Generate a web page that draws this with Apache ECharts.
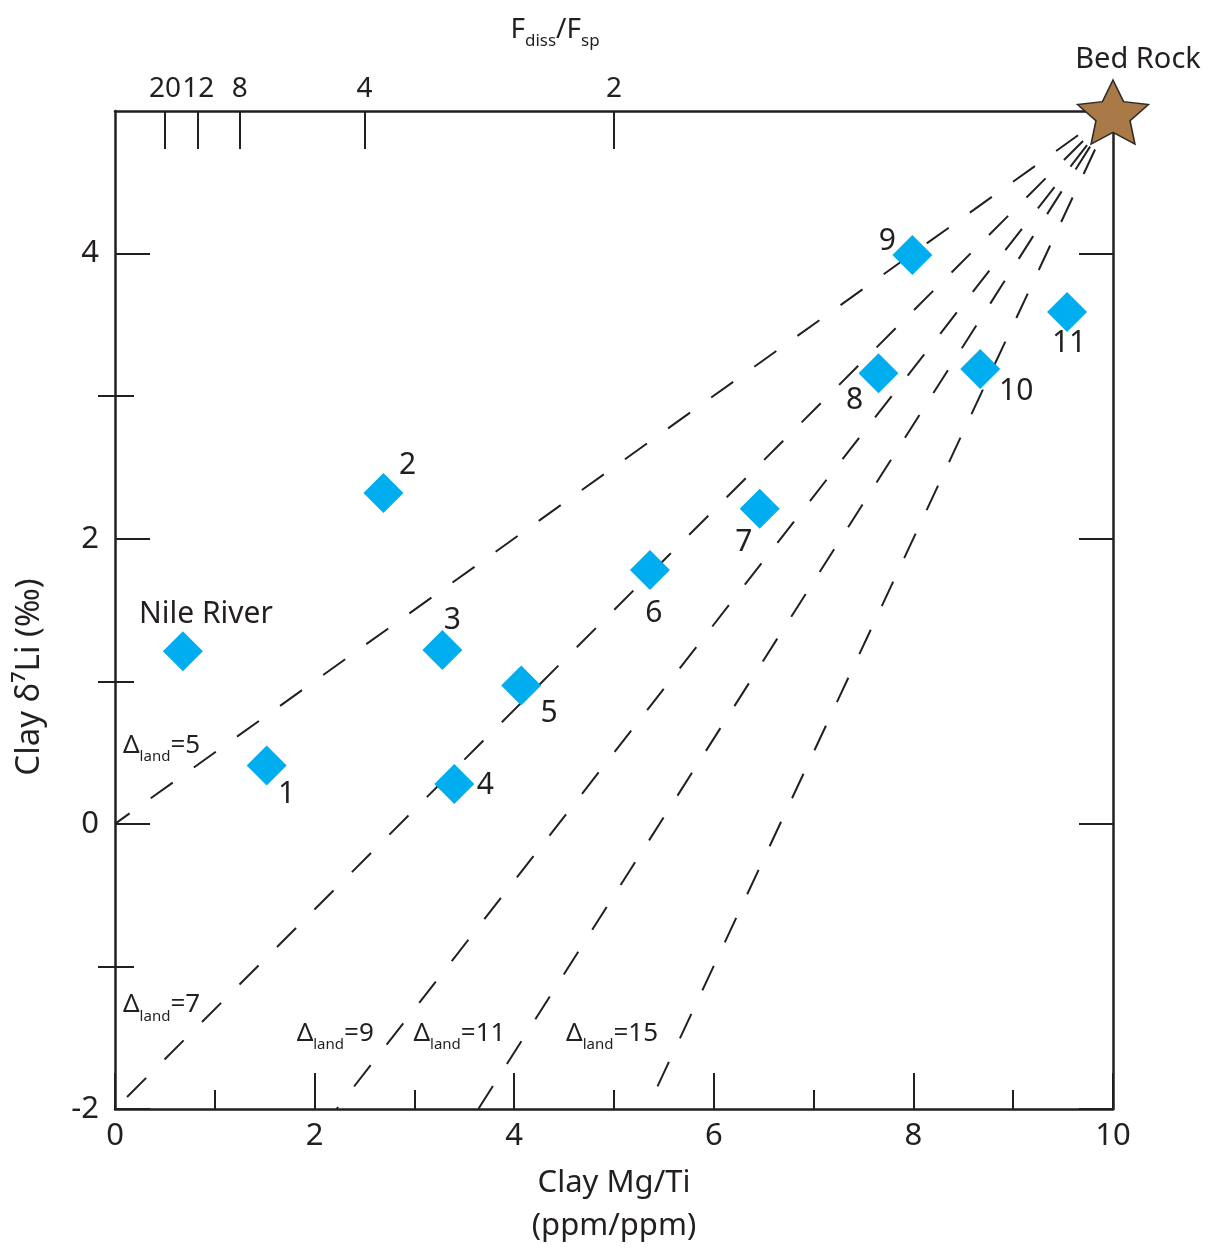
<!DOCTYPE html>
<html>
<head>
<meta charset="utf-8">
<script src="https://cdn.jsdelivr.net/npm/echarts@6/dist/echarts.min.js"></script>
<style>
html,body{margin:0;padding:0;background:#fff;}
#chart{width:1210px;height:1249px;}
</style>
</head>
<body>
<div id="chart"></div>
<script>
// ---- data ----
const sampleNames = ['Nile River','1','2','3','4','5','6','7','8','9','10','11'];
const mgTi  = [0.68, 1.52, 2.69, 3.28, 3.40, 4.07, 5.36, 6.46, 7.65, 7.99, 8.67, 9.54];
const d7Li  = [1.21, 0.41, 2.32, 1.22, 0.28, 0.97, 1.78, 2.21, 3.16, 3.99, 3.19, 3.59];

const bedRock = [10, 5];

const deltaLand   = [5, 7, 9, 11, 15];
const lineStartX  = [9.65, 9.70, 9.74, 9.77, 9.82];
const lineStartY  = [4.83, 4.79, 4.76, 4.75, 4.73];
const lineEndX    = [0.00, 0.00, 2.22, 3.64, 5.33];
const lineEndY    = [0.00, -2.00, -2.00, -2.00, -2.00];
const deltaLabelX = [0.08, 0.08, 1.82, 2.99, 4.52];
const deltaLabelY = [0.55, -1.27, -1.47, -1.47, -1.47];

const fTicks = [20, 12, 8, 4, 2];          // Fdiss/Fsp tick labels (top axis)
const yTickLabels = [-2, 0, 2, 4];
const yMinorTicks = [-1, 1, 3];

// ---- styling (label offsets in px) ----
const labelOffsets = {
  'Nile River':[23,-37], '1':[20,29], '2':[24,-28], '3':[10,-29], '4':[31,2],
  '5':[28,28], '6':[4,43], '7':[-16,34], '8':[-24,27], '9':[-25,-14],
  '10':[36,22], '11':[2,31]
};
const INK = '#231f20';
const FONT = '"Noto Sans", "Open Sans", sans-serif';

// star path
function starPath(){
  let pts = [];
  for (let i=0;i<10;i++){
    const a = (-90 + i*36) * Math.PI/180;
    const r = i%2===0 ? 100 : 48;
    pts.push([(r*Math.cos(a)).toFixed(2),(r*Math.sin(a)).toFixed(2)]);
  }
  return 'path://M' + pts.map(p=>p.join(',')).join('L') + 'Z';
}

const chart = echarts.init(document.getElementById('chart'), null, {renderer:'canvas'});

const sampleData = sampleNames.map((n,i)=>({
  name:n, value:[mgTi[i], d7Li[i]],
  label:{offset: labelOffsets[n]}
}));

const lineSeries = deltaLand.map((d,i)=>({
  type:'line', name:'Δland='+d, xAxisIndex:0, yAxisIndex:0,
  data:[[lineStartX[i], lineStartY[i]],[lineEndX[i], lineEndY[i]]],
  symbol:'none', showSymbol:false, silent:true, z:2,
  lineStyle:{color:INK, width:2, type:[27,26]}
}));

const axisLineStyle = {color:INK, width:2.5};

const option = {
  animation:false,
  backgroundColor:'#fff',
  textStyle:{fontFamily:FONT},
  grid:{left:115, right:97, top:111, bottom:140, containLabel:false},
  xAxis:[
    {type:'value', position:'bottom', min:0, max:10, interval:2,
     axisLine:{show:true, onZero:false, lineStyle:axisLineStyle},
     axisTick:{show:true, inside:true, length:36, lineStyle:{color:INK,width:2}},
     minorTick:{show:true, splitNumber:2, length:19, lineStyle:{color:INK,width:2}},
     splitLine:{show:false},
     axisLabel:{color:INK, fontSize:31, margin:12, fontFamily:FONT}
    },
    {type:'value', position:'top', min:0, max:10,
     axisLine:{show:true, onZero:false, lineStyle:axisLineStyle},
     axisTick:{show:true, inside:true, length:38, lineStyle:{color:INK,width:2},
               customValues: fTicks.map(f=>10/f)},
     splitLine:{show:false},
     axisLabel:{show:true, color:INK, fontSize:28, margin:8, fontFamily:FONT,
                customValues: fTicks.map(f=>10/f),
                formatter:(v)=>String(Math.round(10/v))}
    }
  ],
  yAxis:[
    {type:'value', position:'left', min:-2, max:5, interval:2,
     axisLine:{show:true, onZero:false, lineStyle:axisLineStyle},
     axisTick:{show:true, inside:true, length:35, lineStyle:{color:INK,width:2},
               customValues: yTickLabels},
     splitLine:{show:false},
     axisLabel:{color:INK, fontSize:31, margin:16, fontFamily:FONT,
                customValues: yTickLabels}
    },
    {type:'value', position:'right', min:-2, max:5, interval:2,
     axisLine:{show:true, onZero:false, lineStyle:axisLineStyle},
     axisTick:{show:true, inside:true, length:34, lineStyle:{color:INK,width:2},
               customValues: yTickLabels},
     splitLine:{show:false},
     axisLabel:{show:false}
    },
    {type:'value', position:'left', min:-2, max:5,
     axisLine:{show:false},
     axisTick:{show:true, inside:true, length:19, lineStyle:{color:INK,width:2},
               customValues: yMinorTicks},
     splitLine:{show:false},
     axisLabel:{show:false}
    },
    {type:'value', position:'right', min:-2, max:5,
     axisLine:{show:false},
     axisTick:{show:true, inside:true, length:17, lineStyle:{color:INK,width:2},
               customValues: yMinorTicks},
     splitLine:{show:false},
     axisLabel:{show:false}
    }
  ],
  graphic:[
    {type:'text', x:614, y:1183, z:10,
     style:{text:'Clay Mg/Ti', font:'31px '+FONT, fill:INK, textAlign:'center', textVerticalAlign:'middle'}},
    {type:'text', x:614, y:1226, z:10,
     style:{text:'(ppm/ppm)', font:'31px '+FONT, fill:INK, textAlign:'center', textVerticalAlign:'middle'}},
    {type:'text', x:30, y:677, rotation:Math.PI/2, z:10,
     style:{text:'Clay δ⁷Li (‰)', font:'33px '+FONT, fill:INK, textAlign:'center', textVerticalAlign:'middle'}},
    {type:'text', x:555, y:30, z:10,
     style:{text:'{F|F}{s|diss}{F|/F}{s|sp}', fill:INK, textAlign:'center', textVerticalAlign:'middle',
            rich:{F:{fontSize:28, lineHeight:40, fontFamily:FONT, fill:INK},
                  s:{fontSize:17, lineHeight:40, verticalAlign:'bottom', fontFamily:FONT, fill:INK}}}}
  ],
  series:[
    ...lineSeries,
    {type:'scatter', name:'samples', xAxisIndex:0, yAxisIndex:0, z:5,
     symbol:'diamond', symbolSize:40, clip:false,
     itemStyle:{color:'#00AEEF', opacity:1},
     label:{show:true, position:'inside', formatter:'{b}', color:INK, fontSize:30, fontFamily:FONT},
     data:sampleData},
    {type:'scatter', name:'Bed Rock', xAxisIndex:0, yAxisIndex:0, z:6, clip:false,
     symbol:starPath(), symbolSize:[71,64], symbolKeepAspect:false, symbolOffset:[0,1],
     itemStyle:{color:'#A97A47', borderColor:'#2e2a28', borderWidth:1.5, opacity:1},
     label:{show:true, position:'inside', formatter:'Bed Rock', offset:[25,-52], color:INK, fontSize:29, fontFamily:FONT},
     data:[{name:'Bed Rock', value:bedRock}]},
    {type:'scatter', name:'annotations', xAxisIndex:0, yAxisIndex:0, z:4, clip:false, silent:true,
     symbolSize:0, itemStyle:{opacity:1},
     label:{show:true, position:'right', distance:0,
            formatter:(p)=>'{d|Δ}{s|land}{d|='+p.data.dl+'}',
            rich:{d:{fontSize:26, lineHeight:38, color:INK, fontFamily:FONT},
                  s:{fontSize:15, lineHeight:38, verticalAlign:'bottom', color:INK, fontFamily:FONT}}},
     data:deltaLand.map((d,i)=>({value:[deltaLabelX[i], deltaLabelY[i]], dl:d}))}
  ]
};
chart.setOption(option);
</script>
</body>
</html>
